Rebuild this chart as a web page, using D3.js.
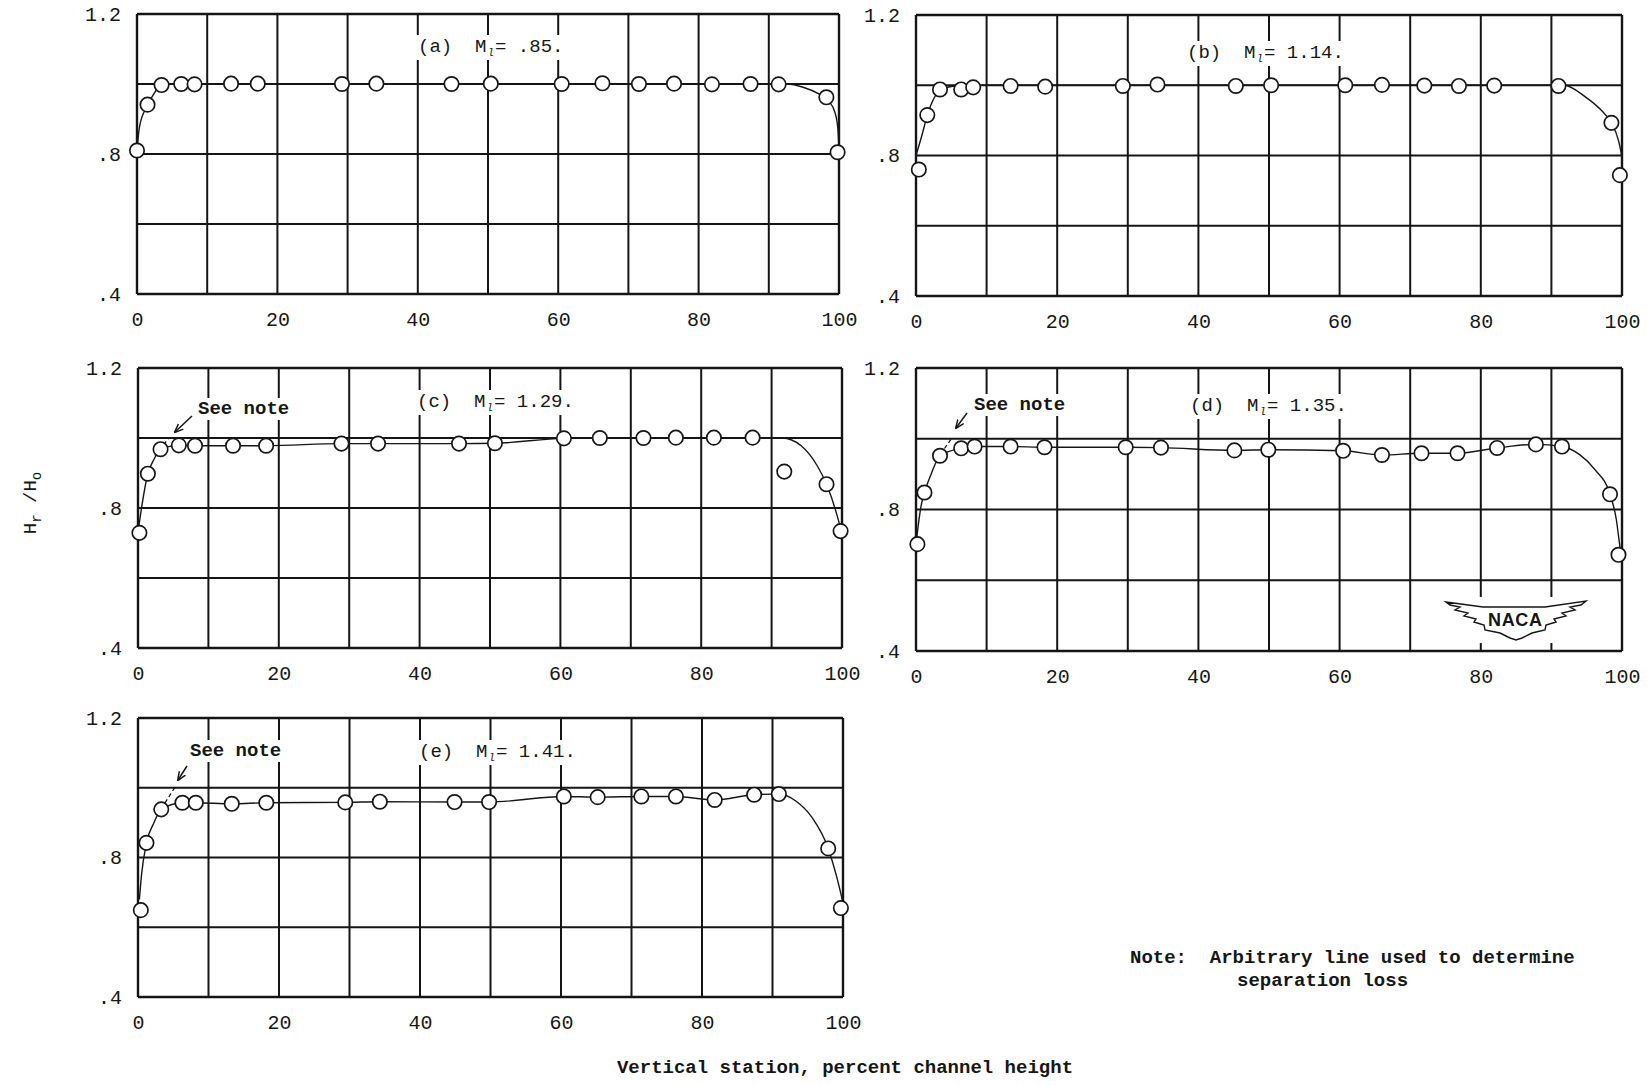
<!DOCTYPE html>
<html>
<head>
<meta charset="utf-8">
<script src="https://cdn.jsdelivr.net/npm/d3@7"></script>
<style>
  html, body { margin: 0; padding: 0; background: #ffffff; }
  svg { display: block; }
  text { font-family: 'Liberation Mono', 'DejaVu Sans Mono', monospace; fill: #161616; }
</style>
</head>
<body>
<svg id="chart" width="1651" height="1085"></svg>
<script>
// ---------------- DATA ----------------
const xTicks = [0, 20, 40, 60, 80, 100];
const yTicks = [0.4, 0.8, 1.2];
const yTickLabels = [".4", ".8", "1.2"];
const xGrid = [0, 10, 20, 30, 40, 50, 60, 70, 80, 90, 100];
const yGrid = [0.4, 0.6, 0.8, 1.0, 1.2];

const panelIds = ["a", "b", "c", "d", "e"];
const machNumbers = [".85.", "1.14.", "1.29.", "1.35.", "1.41."];

// (a) M = .85
const stationA = [0, 1.5, 3.5, 6.3, 8.2, 13.4, 17.2, 29.2, 34.1, 44.8, 50.4, 60.5, 66.3, 71.5, 76.5, 81.9, 87.4, 91.4, 98.2, 99.8];
const ratioA   = [0.81, 0.941, 0.997, 1.0, 0.999, 1.001, 1.001, 1.0, 1.001, 1.0, 1.001, 1.0, 1.002, 1.0, 1.001, 0.999, 1.0, 0.999, 0.962, 0.805];
const fairStationA = [0, 0.3, 1.1, 2.1, 3.5, 5, 92.5, 95, 97, 98.5, 99.4, 99.85, 100];
const fairRatioA   = [0.81, 0.87, 0.925, 0.962, 0.997, 1.0, 1.0, 0.99, 0.973, 0.952, 0.92, 0.87, 0.81];

// (b) M = 1.14
const stationB = [0.4, 1.6, 3.4, 6.4, 8.1, 13.4, 18.3, 29.3, 34.2, 45.3, 50.3, 60.8, 66.0, 72.0, 76.9, 81.9, 91.0, 98.5, 99.7];
const ratioB   = [0.76, 0.915, 0.988, 0.988, 0.994, 0.998, 0.996, 0.998, 1.002, 0.998, 1.0, 1.0, 1.001, 0.999, 0.998, 0.999, 0.998, 0.893, 0.744];
const fairStationB = [0, 0.9, 1.6, 2.3, 3.4, 5.2, 7, 91.8, 94.8, 97, 98.5, 99.5, 100];
const fairRatioB   = [0.80, 0.862, 0.915, 0.953, 0.985, 0.997, 1.0, 1.0, 0.967, 0.93, 0.893, 0.843, 0.796];

// (c) M = 1.29
const stationC = [0.2, 1.4, 3.2, 5.8, 8.1, 13.5, 18.2, 28.9, 34.1, 45.6, 50.7, 60.5, 65.6, 71.8, 76.4, 81.8, 87.3, 91.8, 97.8, 99.8];
const ratioC   = [0.729, 0.898, 0.968, 0.979, 0.978, 0.978, 0.978, 0.984, 0.984, 0.984, 0.985, 0.999, 1.0, 1.0, 1.001, 1.001, 1.001, 0.904, 0.868, 0.734];
const fairStationC = [0.1, 0.5, 1.4, 2.3, 3.2, 5.8, 8.1, 13.5, 18.2, 28.9, 34.1, 45.6, 50.7, 60.5, 65.6, 91.5, 94.2, 96.5, 97.8, 99.2, 99.8, 100];
const fairRatioC   = [0.745, 0.80, 0.898, 0.94, 0.968, 0.979, 0.978, 0.978, 0.978, 0.984, 0.984, 0.984, 0.985, 0.999, 1.0, 1.0, 0.978, 0.92, 0.868, 0.786, 0.74, 0.72];
const noteC = [[2.4, 0.95], [4.4, 1.0]];

// (d) M = 1.35
const stationD = [0.2, 1.2, 3.4, 6.4, 8.3, 13.4, 18.2, 29.7, 34.7, 45.1, 49.9, 60.5, 66.0, 71.6, 76.7, 82.3, 87.8, 91.5, 98.3, 99.5];
const ratioD   = [0.702, 0.848, 0.952, 0.973, 0.978, 0.978, 0.976, 0.976, 0.975, 0.967, 0.969, 0.966, 0.954, 0.959, 0.959, 0.974, 0.984, 0.978, 0.843, 0.672];
const fairStationD = [0.1, 0.7, 1.2, 2.2, 3.4, 6.4, 8.3, 13.4, 18.2, 29.7, 34.7, 45.1, 49.9, 60.5, 66.0, 71.6, 76.7, 82.3, 87.8, 91.5, 94.0, 96.2, 98.3, 99.2, 99.7, 100];
const fairRatioD   = [0.72, 0.808, 0.848, 0.903, 0.952, 0.973, 0.978, 0.978, 0.976, 0.976, 0.975, 0.967, 0.969, 0.966, 0.954, 0.959, 0.959, 0.974, 0.984, 0.978, 0.955, 0.912, 0.843, 0.771, 0.695, 0.65];
const noteD = [[2.9, 0.94], [5.0, 1.0]];

// (e) M = 1.41
const stationE = [0.4, 1.2, 3.3, 6.3, 8.2, 13.3, 18.2, 29.4, 34.3, 44.9, 49.8, 60.4, 65.2, 71.4, 76.3, 81.8, 87.4, 90.9, 97.9, 99.7];
const ratioE   = [0.649, 0.842, 0.938, 0.957, 0.957, 0.954, 0.957, 0.958, 0.96, 0.959, 0.959, 0.975, 0.973, 0.975, 0.975, 0.965, 0.98, 0.982, 0.826, 0.655];
const fairStationE = [0.2, 0.5, 1.2, 2.2, 3.3, 6.3, 8.2, 13.3, 18.2, 29.4, 34.3, 44.9, 49.8, 60.4, 65.2, 71.4, 76.3, 81.8, 87.4, 90.9, 93.3, 95.6, 97.9, 99.1, 100];
const fairRatioE   = [0.68, 0.75, 0.842, 0.897, 0.938, 0.957, 0.957, 0.954, 0.957, 0.958, 0.96, 0.959, 0.959, 0.975, 0.973, 0.975, 0.975, 0.965, 0.98, 0.982, 0.962, 0.915, 0.826, 0.745, 0.67];
const noteE = [[3.3, 0.94], [5.2, 1.0]];

// ---------------- LAYOUT ----------------
const layout = {
  a: { x0: 137, x1: 839, y0: 14, y1: 294, tx: 418, ty: 52 },
  b: { x0: 916, x1: 1622, y0: 15, y1: 296, tx: 1187, ty: 58 },
  c: { x0: 138, x1: 842, y0: 368, y1: 648, tx: 417, ty: 407 },
  d: { x0: 916, x1: 1622, y0: 368, y1: 651, tx: 1190, ty: 411 },
  e: { x0: 138, x1: 843, y0: 718, y1: 997, tx: 419, ty: 757 }
};
const seeNote = {
  c: { tx: 198, ty: 414, ax0: 192, ay0: 416, ax1: 175, ay1: 432 },
  d: { tx: 974, ty: 410, ax0: 967, ay0: 413, ax1: 956, ay1: 428 },
  e: { tx: 190, ty: 756, ax0: 187, ay0: 766, ax1: 178, ay1: 780 }
};

const series = {
  a: { st: stationA, r: ratioA, fs: fairStationA, fr: fairRatioA, note: null },
  b: { st: stationB, r: ratioB, fs: fairStationB, fr: fairRatioB, note: null },
  c: { st: stationC, r: ratioC, fs: fairStationC, fr: fairRatioC, note: noteC },
  d: { st: stationD, r: ratioD, fs: fairStationD, fr: fairRatioD, note: noteD },
  e: { st: stationE, r: ratioE, fs: fairStationE, fr: fairRatioE, note: noteE }
};

const svg = d3.select("#chart");
svg.append("rect").attr("width", 1651).attr("height", 1085).attr("fill", "#ffffff");

const defs = svg.append("defs");
defs.append("marker").attr("id", "arrow").attr("viewBox", "0 0 10 10")
  .attr("refX", 9).attr("refY", 5).attr("markerWidth", 9).attr("markerHeight", 9)
  .attr("markerUnits", "userSpaceOnUse").attr("orient", "auto")
  .append("path").attr("d", "M0,1 L10,5 L0,9").attr("fill", "none").attr("stroke", "#161616").attr("stroke-width", 1.6);

function backWhite(g, textSel, padX, padY) {
  const b = textSel.node().getBBox();
  g.insert("rect", () => textSel.node())
    .attr("x", b.x - padX).attr("y", b.y - padY + 2)
    .attr("width", b.width + 2 * padX).attr("height", b.height + 2 * padY - 4)
    .attr("fill", "#ffffff");
}

panelIds.forEach((id, i) => {
  const L = layout[id];
  const S = series[id];
  const x = d3.scaleLinear().domain([0, 100]).range([L.x0, L.x1]);
  const y = d3.scaleLinear().domain([0.4, 1.2]).range([L.y1, L.y0]);
  const g = svg.append("g").attr("class", "panel-" + id);

  // grid
  g.append("g").selectAll("line").data(xGrid).join("line")
    .attr("x1", d => x(d)).attr("x2", d => x(d))
    .attr("y1", L.y0).attr("y2", L.y1)
    .attr("stroke", "#151515").attr("stroke-width", d => (d === 0 || d === 100) ? 2.4 : 2);
  g.append("g").selectAll("line").data(yGrid).join("line")
    .attr("x1", L.x0).attr("x2", L.x1)
    .attr("y1", d => y(d)).attr("y2", d => y(d))
    .attr("stroke", "#151515").attr("stroke-width", d => (d === 0.4 || d === 1.2) ? 2.6 : 2.1);

  // axes labels
  const xAxis = d3.axisBottom(x).tickValues(xTicks).tickSize(0).tickPadding(0).tickFormat(d3.format("d"));
  const xa = g.append("g").attr("transform", `translate(0,${L.y1 + 18})`).call(xAxis);
  xa.select(".domain").remove();
  xa.selectAll("text").attr("font-size", 20).attr("font-family", "'Liberation Mono', monospace").attr("fill", "#161616");

  const yAxis = d3.axisLeft(y).tickValues(yTicks).tickSize(0).tickPadding(0)
    .tickFormat((d, k) => yTickLabels[k]);
  const ya = g.append("g").attr("transform", `translate(${L.x0 - 16},0)`).call(yAxis);
  ya.select(".domain").remove();
  ya.selectAll("text").attr("font-size", 20).attr("font-family", "'Liberation Mono', monospace").attr("fill", "#161616");

  // title (with white backing that breaks the grid lines)
  const tg = g.append("g");
  const t = tg.append("text").attr("x", L.tx).attr("y", L.ty).attr("font-size", 19)
    .style("white-space", "pre");
  t.append("tspan").text(`(${id})  M`);
  t.append("tspan").attr("font-size", 11).attr("font-style", "italic").attr("dx", 1).attr("dy", 4).text("l");
  t.append("tspan").attr("dx", 1).attr("dy", -4).text("= " + machNumbers[i]);
  backWhite(tg, t, 4, 3);

  // see note
  if (seeNote[id]) {
    const N = seeNote[id];
    const ng = g.append("g");
    const nt = ng.append("text").attr("x", N.tx).attr("y", N.ty).attr("font-size", 19).attr("font-weight", "bold")
      .style("white-space", "pre").text("See note");
    backWhite(ng, nt, 3, 2);
    g.append("line").attr("x1", N.ax0).attr("y1", N.ay0).attr("x2", N.ax1).attr("y2", N.ay1)
      .attr("stroke", "#161616").attr("stroke-width", 1.5).attr("marker-end", "url(#arrow)");
  }

  // faired curve
  const fair = S.fs.map((s, k) => [s, S.fr[k]]);
  const line = d3.line().x(d => x(d[0])).y(d => y(d[1])).curve(d3.curveMonotoneX);
  g.append("path").attr("d", line(fair)).attr("fill", "none")
    .attr("stroke", "#161616").attr("stroke-width", 1.4);

  // arbitrary (dashed) line
  if (S.note) {
    g.append("path").attr("d", d3.line().x(d => x(d[0])).y(d => y(d[1]))(S.note))
      .attr("fill", "none").attr("stroke", "#161616").attr("stroke-width", 1.3)
      .attr("stroke-dasharray", "4,3");
  }

  // data points
  const pts = S.st.map((s, k) => [s, S.r[k]]);
  g.append("g").selectAll("circle").data(pts).join("circle")
    .attr("cx", d => x(d[0])).attr("cy", d => y(d[1])).attr("r", 7.2)
    .attr("fill", "#ffffff").attr("stroke", "#161616").attr("stroke-width", 1.7);
});

// NACA logo in panel (d)
(function () {
  const g = svg.append("g").attr("transform", "translate(1516,601)");
  const wing = "M-70,1 L-33,6 L29,6 L70,0 L65,4 L54,6 L59,9 L46,12 L50,15 L38,18 L40,21 L30,24 L29,29 " +
               "L16,32 L6,37 L0,39 L-6,37 L-16,32 L-31,29 L-32,24 L-42,21 L-40,18 L-52,15 L-48,12 L-61,9 L-56,6 L-66,4 Z";
  g.append("rect").attr("x", -74).attr("y", -4).attr("width", 148).attr("height", 46).attr("fill", "#ffffff");
  g.append("path").attr("d", wing).attr("fill", "#ffffff").attr("stroke", "#161616").attr("stroke-width", 1.4);
  g.append("text").attr("x", -1).attr("y", 25).attr("text-anchor", "middle")
    .style("font-family", "'Liberation Sans', Arial, sans-serif")
    .attr("font-weight", "bold").attr("font-size", 18).attr("textLength", 54).text("NACA");
})();

// y-axis label
const yl = svg.append("text").attr("transform", "translate(36,503) rotate(-90)")
  .attr("text-anchor", "middle").attr("font-size", 19).style("white-space", "pre");
yl.append("tspan").text("H");
yl.append("tspan").attr("font-size", 14).attr("dy", 5).text("r");
yl.append("tspan").attr("dy", -5).text(" /H");
yl.append("tspan").attr("font-size", 14).attr("dy", 5).text("o");

// x-axis label
svg.append("text").attr("x", 845).attr("y", 1073).attr("text-anchor", "middle")
  .attr("font-size", 19).attr("font-weight", "bold").style("white-space", "pre")
  .text("Vertical station, percent channel height");

// note
svg.append("text").attr("x", 1130).attr("y", 963).attr("font-size", 19).attr("font-weight", "bold")
  .style("white-space", "pre").text("Note:  Arbitrary line used to determine");
svg.append("text").attr("x", 1237).attr("y", 986).attr("font-size", 19).attr("font-weight", "bold")
  .style("white-space", "pre").text("separation loss");
</script>
</body>
</html>
